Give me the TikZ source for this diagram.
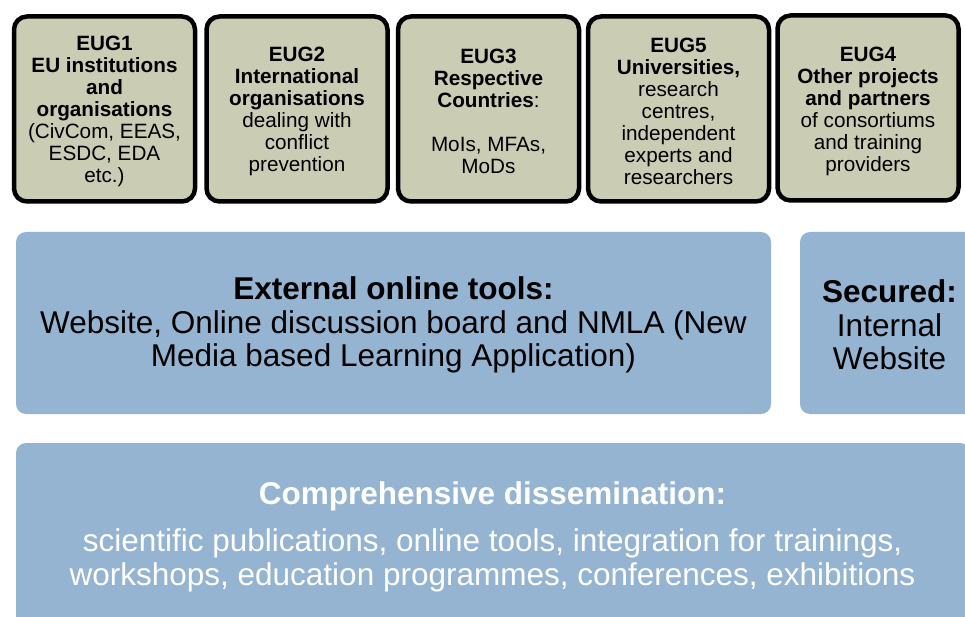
\documentclass[tikz,border=0pt]{standalone}
\usepackage{fontspec}
\setmainfont{Liberation Sans}
\definecolor{khaki}{HTML}{CACCB4}
\definecolor{paleblue}{HTML}{94B4D2}
\begin{document}
\begin{tikzpicture}[x=1pt,y=-1pt,
  eugbox/.style={draw=black, line width=4.5pt, fill=khaki, rounded corners=13pt,
    minimum width=181pt, minimum height=185pt, align=center, inner sep=0pt,
    font=\fontsize{20.7}{22}\selectfont, text=black},
  bigtext/.style={align=center, font=\fontsize{31.5}{33.5}\selectfont, inner sep=0pt}
]
\clip (0,0) rectangle (965,617);
\fill[white] (0,0) rectangle (965,617);

% top boxes
\node[eugbox] (e1) at (104.5,109) {};
\node[eugbox] (e2) at (297,109) {};
\node[eugbox] (e3) at (488.5,109) {};
\node[eugbox] (e5) at (678.5,109) {};
\node[eugbox] (e4) at (868,108) {};
\node[eugbox, draw=none, fill=none] (t1) at (104.5,111) {\textbf{EUG1}\\\textbf{EU institutions}\\\textbf{and}\\\textbf{organisations}\\(CivCom, EEAS,\\ESDC, EDA\\etc.)};
\node[eugbox, draw=none, fill=none] (t2) at (297,111) {\textbf{EUG2}\\\textbf{International}\\\textbf{organisations}\\dealing with\\conflict\\prevention};
\node[eugbox, draw=none, fill=none] (t3) at (488.5,111) {\textbf{EUG3}\\\textbf{Respective}\\\textbf{Countries}:\\[22pt]MoIs, MFAs,\\MoDs};
\node[eugbox, draw=none, fill=none] (t5) at (678.5,111) {\textbf{EUG5}\\\textbf{Universities,}\\research\\centres,\\independent\\experts and\\researchers};
\node[eugbox, draw=none, fill=none] (t4) at (868,111) {\textbf{EUG4}\\\textbf{Other projects}\\\textbf{and partners}\\of consortiums\\and training\\providers};

% middle boxes
\fill[paleblue, rounded corners=10pt] (16,232) rectangle (771,414);
\node[bigtext] (ext) at (393.5,325) {\textbf{External online tools:}\\Website, Online discussion board and NMLA (New\\Media based Learning Application)};
\fill[paleblue, rounded corners=10pt] (800,232) rectangle (980,414);
\node[bigtext] (sec) at (889.5,325) {\textbf{Secured:}\\Internal\\Website};

% bottom box
\fill[paleblue, rounded corners=10pt] (16,443) rectangle (970,640);
\node[bigtext, text=white] (comp) at (492.5,536.5) {\textbf{Comprehensive dissemination:}\\[14pt]scientific publications, online tools, integration for trainings,\\workshops, education programmes, conferences, exhibitions};
\end{tikzpicture}
\end{document}
